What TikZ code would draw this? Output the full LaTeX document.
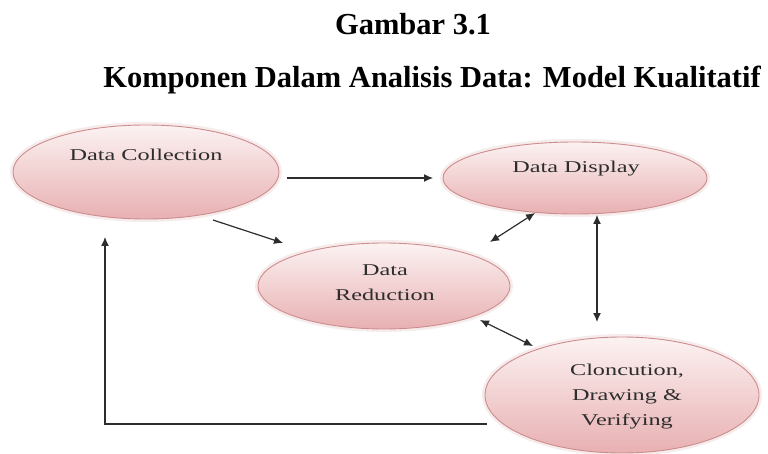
\documentclass[tikz,border=0pt]{standalone}
\usepackage{fontspec}
\setmainfont{Liberation Serif}
\usetikzlibrary{shapes.geometric,arrows.meta,calc}
\definecolor{ellfill1}{RGB}{252,242,242}
\definecolor{ellfill2}{RGB}{232,176,178}
\definecolor{elldraw}{RGB}{205,140,142}
\definecolor{ellglow}{RGB}{246,236,236}
\definecolor{txtgray}{RGB}{45,45,45}
\definecolor{arrgray}{RGB}{45,45,45}
\tikzset{
  ell/.style={ellipse, draw=elldraw, line width=0.9pt, top color=ellfill1, bottom color=ellfill2,
    preaction={draw=ellglow, line width=6pt}},
  lbl/.style={anchor=base, inner sep=0pt, text=txtgray, font=\fontsize{16.5}{19}\selectfont},
  ttl/.style={anchor=base, inner sep=0pt, font=\bfseries\fontsize{30.5}{36}\selectfont},
  arr/.style={draw=arrgray, line width=1.2pt, -{Latex[length=9pt,width=8pt]}},
  darr/.style={draw=arrgray, line width=1.2pt, {Latex[length=9pt,width=8pt]}-{Latex[length=9pt,width=8pt]}}
}
\newcommand{\sx}[1]{\scalebox{1.47}[1]{#1}}
\begin{document}
\begin{tikzpicture}[x=1pt,y=-1pt]
\useasboundingbox (0,0) rectangle (768,454);
% titles
\node[ttl] (t1) at (413,35) {Gambar 3.1};
\node[ttl] (t2) at (432,88) {Komponen Dalam Analisis Data: Model Kualitatif};
% ellipses
\node[ell, minimum width=266pt, minimum height=94pt] (dc) at (146,172) {};
\node[ell, minimum width=264pt, minimum height=72pt] (dd) at (575,178) {};
\node[ell, minimum width=252pt, minimum height=86pt] (dr) at (384,286) {};
\node[ell, minimum width=274pt, minimum height=116pt] (cv) at (622,395) {};
% labels
\node[lbl] (dcl) at (146,161) {\sx{Data Collection}};
\node[lbl] (ddl) at (576,173) {\sx{Data Display}};
\node[lbl] (drl1) at (385,276) {\sx{Data}};
\node[lbl] (drl2) at (385,300) {\sx{Reduction}};
\node[lbl] (cvl1) at (627,375) {\sx{Cloncution,}};
\node[lbl] (cvl2) at (627,400) {\sx{Drawing \&}};
\node[lbl] (cvl3) at (627,425) {\sx{Verifying}};
% connectors
\draw[arr] ($(dc)+(141,6)$) -- ($(dd)+(-142,0)$);
\draw[arr] ($(dc)+(67,48)$) -- ($(dr)+(-101,-43)$);
\draw[darr] ($(dr)+(106,-44)$) -- ($(dd)+(-40,35)$);
\draw[darr] ($(dd)+(22,37)$) -- ($(cv)+(-25,-73)$);
\draw[darr] ($(dr)+(96,34)$) -- ($(cv)+(-89,-49)$);
\draw[arr] ($(cv)+(-135,29)$) -| ($(dc)+(-41,65)$);
\end{tikzpicture}
\end{document}
